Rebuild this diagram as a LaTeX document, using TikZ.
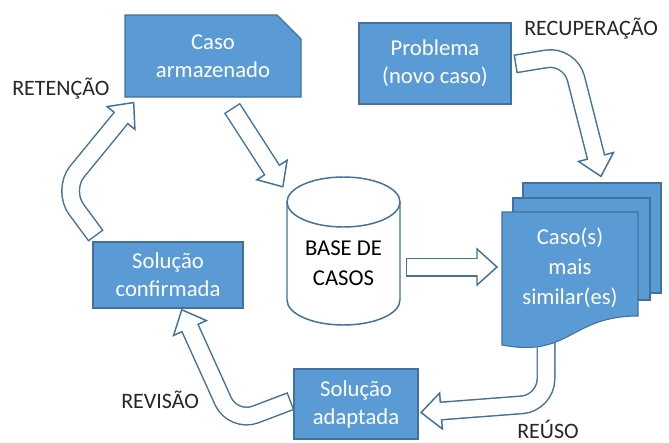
\documentclass[tikz,border=0pt]{standalone}
\usepackage{fontspec}
\setmainfont{Carlito}
\definecolor{cbrblue}{RGB}{91,155,213}
\definecolor{cbrdark}{RGB}{65,113,156}
\definecolor{cbrtext}{RGB}{38,38,38}
\usetikzlibrary{calc,shapes.misc}

% hollow block arrow: #1 shaft path, #2 point before head, #3 head base
\newcommand{\hollowarrow}[3]{%
  \draw[arrowedge, fill=white] ($(#3)!13.5pt!90:(#2)$) -- ($(#3)!-15pt!(#2)$)
    -- ($(#3)!13.5pt!-90:(#2)$) -- cycle;
  \draw[shaftout] #1;
  \draw[shaftin] #1;}

\begin{document}
\begin{tikzpicture}[x=0.75pt, y=-0.75pt]
    \tikzset{cbrbox/.style={rectangle, draw=cbrdark, fill=cbrblue, line width=0.8pt,
      text=white, align=center, inner sep=0pt, font=\fontsize{17}{21}\selectfont},
      cbrlabel/.style={anchor=base west, inner sep=0pt, text=cbrtext,
      font=\fontsize{16.5}{20}\selectfont},
      arrowedge/.style={draw=cbrdark, line width=1.1pt, line join=miter},
      shaftout/.style={draw=cbrdark, line width=14.25pt},
      shaftin/.style={draw=white, line width=12.05pt, shorten <=1.1pt, shorten >=-2pt},
      docpage/.style={draw=cbrdark, fill=cbrblue, line width=0.8pt}}
    \useasboundingbox (0,0) rectangle (669,443);

    % Boxes
    \node[cbrbox, chamfered rectangle, chamfered rectangle corners=north east,
      chamfered rectangle xsep=9pt, chamfered rectangle ysep=9pt,
      minimum width=132pt, minimum height=61.5pt] (armaz) at (213,56) {Caso\\armazenado};
    \node[cbrbox, minimum width=114pt, minimum height=60.75pt] (prob) at (435,63.5) {Problema\\(novo caso)};
    \node[cbrbox, minimum width=112.5pt, minimum height=49.5pt] (conf) at (168,275) {Solução\\confirmada};
    \node[cbrbox, minimum width=93pt, minimum height=52.5pt] (adapt) at (356,404) {Solução\\adaptada};

    % Base de casos
    \draw[draw=cbrdark, fill=white, line width=1.1pt] (287,202) -- (287,300)
      arc[start angle=180, end angle=360, x radius=42.375pt, y radius=18.75pt] -- (400,202);
    \draw[draw=cbrdark, fill=white, line width=1.1pt] (343.5,202) ellipse[x radius=42.375pt, y radius=18.75pt];
    \node[align=center, text=black, font=\fontsize{17}{22.5}\selectfont] (base) at (343.5,263) {BASE DE\\CASOS};

    % Arrow end points
    \coordinate (retTail) at (96,236);  \coordinate (retBend) at (62,190);  \coordinate (retBase) at (121,118);
    \coordinate (armTail) at (232,108); \coordinate (armBase) at (272,170);
    \coordinate (simTail) at (406,267); \coordinate (simBase) at (477,267);
    \coordinate (recTail) at (515,64);  \coordinate (recBend) at (570,55);  \coordinate (recBase) at (596,157);
    \coordinate (reuTail) at (546,335); \coordinate (reuBend) at (546,403); \coordinate (reuBase) at (441,411);
    \coordinate (revTail) at (291,401); \coordinate (revBend) at (233,423); \coordinate (revBase) at (190,328);

    \hollowarrow{[rounded corners=18pt] (retTail) -- (retBend) -- (retBase)}{retBend}{retBase}
    \hollowarrow{(armTail) -- (armBase)}{armTail}{armBase}
    \hollowarrow{(simTail) -- (simBase)}{simTail}{simBase}
    \hollowarrow{[rounded corners=18pt] (recTail) -- (recBend) -- (recBase)}{recBend}{recBase}
    \hollowarrow{[rounded corners=18pt] (reuTail) -- (reuBend) -- (reuBase)}{reuBend}{reuBase}
    \hollowarrow{[rounded corners=18pt] (revTail) -- (revBend) -- (revBase)}{revBend}{revBase}

    % Caso(s) mais similar(es)
    \draw[docpage] (523,183) rectangle (661,293);
    \draw[docpage] (513,198) rectangle (650,300);
    \draw[docpage] (502,212) -- (638,212) -- (638,316)
      .. controls (570,316) and (570,358) .. (502,345) -- cycle;
    \node[align=center, text=white, font=\fontsize{17}{22.5}\selectfont] (sim) at (570,268) {Caso(s)\\mais\\similar(es)};

    % Labels
    \node[cbrlabel] (ret) at (12,95) {RETENÇÃO};
    \node[cbrlabel] (rec) at (524,35) {RECUPERAÇÃO};
    \node[cbrlabel] (rev) at (121,408) {REVISÃO};
    \node[cbrlabel] (reu) at (517,438) {REÚSO};
  \end{tikzpicture}
\end{document}
